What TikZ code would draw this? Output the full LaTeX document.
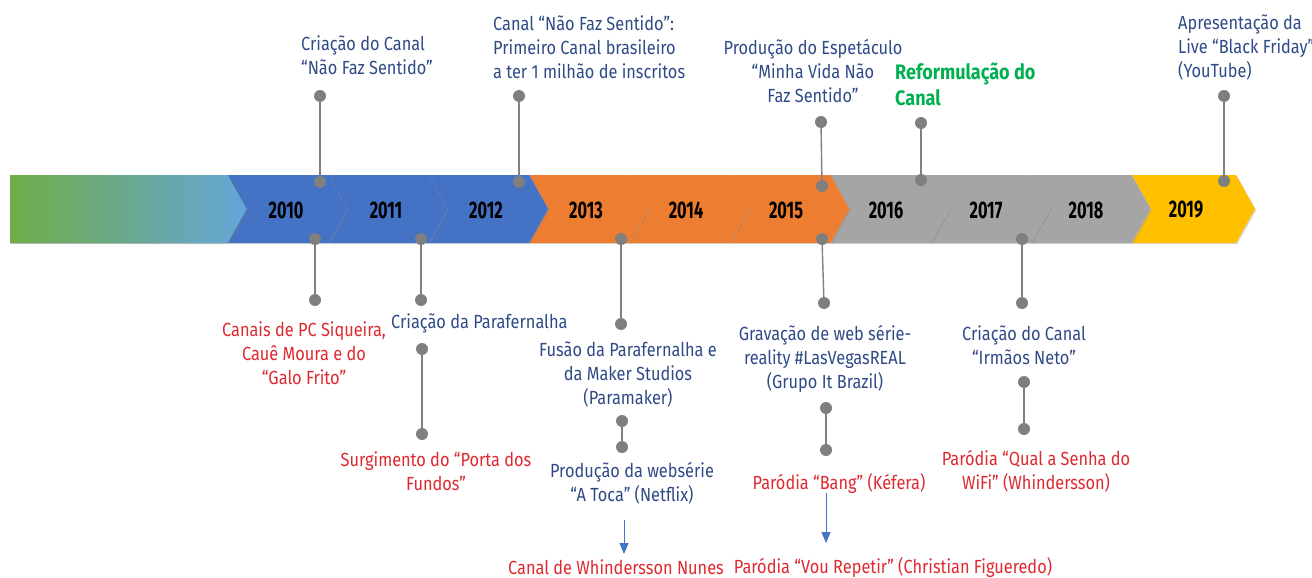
\documentclass[tikz,border=0pt]{standalone}
\usepackage{fontspec}
\setmainfont{Fira Sans}[FakeStretch=0.86]
\newfontfamily\yearfont{Fira Sans}[FakeStretch=0.68]
\usetikzlibrary{arrows.meta,shadows}
\definecolor{txtblue}{RGB}{47,74,134}
\definecolor{txtred}{RGB}{222,41,48}
\definecolor{txtgreen}{RGB}{0,176,80}
\definecolor{cblue}{RGB}{68,114,196}
\definecolor{corange}{RGB}{237,125,49}
\definecolor{cgray}{RGB}{165,165,165}
\definecolor{cyellow}{RGB}{255,192,0}
\definecolor{cgreen}{RGB}{112,173,71}
\definecolor{clight}{RGB}{100,165,218}
\definecolor{dotgray}{RGB}{127,127,127}
\definecolor{stemgray}{RGB}{128,128,128}
\begin{document}
\begin{tikzpicture}[x=1pt,y=-1pt,
  dot/.style={circle,fill=dotgray,inner sep=0pt,minimum size=12pt},
  stem/.style={draw=stemgray,line width=1.4pt},
  arr/.style={draw=cblue,line width=1pt,-{Triangle[width=9pt,length=11pt]}},
  lbl/.style={inner sep=0pt,font=\fontsize{19}{24}\selectfont,align=center},
  lblleft/.style={lbl,align=left,anchor=west},
  blue/.style={text=txtblue},
  red/.style={text=txtred},
  year/.style={inner sep=0pt,font=\yearfont\bfseries\fontsize{24}{24}\selectfont,text=black},
  chev/.style={drop shadow={shadow xshift=1.2pt,shadow yshift=-1.2pt,opacity=0.3}}]
\useasboundingbox (0,0) rectangle (1312,578);

% ---- timeline bar: chevrons drawn right to left so each casts a soft edge on the next
\fill[cyellow,chev] (1132,175) -- (1236,175) -- (1255,209) -- (1236,243) -- (1132,243) -- (1151,209) -- cycle;
\foreach \k/\c in {8/cgray,7/cgray,6/cgray,5/corange,4/corange,3/corange,2/cblue,1/cblue,0/cblue}{
  \pgfmathsetmacro\xl{228+100.4*\k}
  \fill[\c,chev] (\xl,175) -- ++(100.4,0) -- ++(19,34) -- ++(-19,34) -- ++(-100.4,0) -- ++(19,-34) -- cycle;
}
\fill[left color=cgreen,right color=clight,chev] (10,175) -- (228,175) -- (247,209) -- (228,243) -- (10,243) -- cycle;

% ---- years
\foreach \k in {0,...,9}{
  \pgfmathtruncatemacro\yr{2010+\k}
  \node[year] (y\yr) at (286+100*\k,210) {\yr};
}

% ---- events above the bar
\node[dot] (t1a) at (320,96) {};  \node[dot] (t1b) at (320,182) {};
\node[dot] (t2a) at (519,96) {};  \node[dot] (t2b) at (519,182) {};
\node[dot] (t3a) at (821,122) {}; \node[dot] (t3b) at (822,186) {};
\node[dot] (t4a) at (921,123) {}; \node[dot] (t4b) at (921,180) {};
\node[dot] (t5a) at (1224,96) {}; \node[dot] (t5b) at (1224,181) {};
\foreach \n in {t1,t2,t3,t4,t5}{ \draw[stem] (\n a) -- (\n b); }

\node[lblleft,blue] (e1) at (301,55) {Criação do Canal\\“Não Faz Sentido”};
\node[lblleft,blue] (e2) at (493,47) {Canal “Não Faz Sentido”:\\Primeiro Canal brasileiro\\a ter 1 milhão de inscritos};
\node[lbl,blue] (e3) at (813,71) {Produção do Espetáculo\\“Minha Vida Não\\Faz Sentido”};
\node[lblleft,text=txtgreen,font=\bfseries\fontsize{21}{26}\selectfont] (e4) at (895,84) {Reformulação do\\Canal};
\node[lblleft,blue] (e5) at (1178,48) {Apresentação da\\Live “Black Friday”\\(YouTube)};

% ---- events below the bar
\node[dot] (b1a) at (315,239) {};  \node[dot] (b1b) at (315,300) {};
\node[dot] (b2a) at (421,239) {};  \node[dot] (b2b) at (421,300) {};
\node[dot] (b3a) at (422,349) {};  \node[dot] (b3b) at (422,434) {};
\node[dot] (b4a) at (621,239) {};  \node[dot] (b4b) at (621,324) {};
\node[dot] (b5a) at (622,421) {};  \node[dot] (b5b) at (622,447) {};
\node[dot] (b6a) at (822,239) {};  \node[dot] (b6b) at (824,303) {};
\node[dot] (b7a) at (826,408) {};  \node[dot] (b7b) at (826,450) {};
\node[dot] (b8a) at (1022,239) {}; \node[dot] (b8b) at (1022,303) {};
\node[dot] (b9a) at (1024,382) {}; \node[dot] (b9b) at (1024,429) {};
\foreach \n in {b1,b2,b3,b4,b5,b6,b7,b8,b9}{ \draw[stem] (\n a) -- (\n b); }

\node[lbl,red] (f1) at (304,353) {Canais de PC Siqueira,\\Cauê Moura e do\\“Galo Frito”};
\node[lblleft,blue] (f2) at (391,323) {Criação da Parafernalha};
\node[lbl,red] (f3) at (436,471) {Surgimento do “Porta dos\\Fundos”};
\node[lbl,blue] (f4) at (628,375) {Fusão da Parafernalha e\\da Maker Studios\\(Paramaker)};
\node[lbl,blue] (f5) at (632,483) {Produção da websérie\\“A Toca” (Netflix)};
\node[lbl,red] (f6) at (616,567) {Canal de Whindersson Nunes};
\node[lbl,blue] (f7) at (825,359) {Gravação de web série-\\reality \#LasVegasREAL\\(Grupo It Brazil)};
\node[lbl,red] (f8) at (839,483) {Paródia “Bang” (Kéfera)};
\node[lbl,red] (f9) at (893,567) {Paródia “Vou Repetir” (Christian Figueredo)};
\node[lbl,blue] (f10) at (1024,345) {Criação do Canal\\“Irmãos Neto”};
\node[lbl,red] (f11) at (1036,471) {Paródia “Qual a Senha do\\WiFi” (Whindersson)};

% ---- arrows to the later parodies and channel
\coordinate (a1s) at (624,520); \coordinate (a1e) at (624,554);
\coordinate (a2s) at (826,493); \coordinate (a2e) at (826,543);
\draw[arr] (a1s) -- (a1e);
\draw[arr] (a2s) -- (a2e);
\end{tikzpicture}
\end{document}
